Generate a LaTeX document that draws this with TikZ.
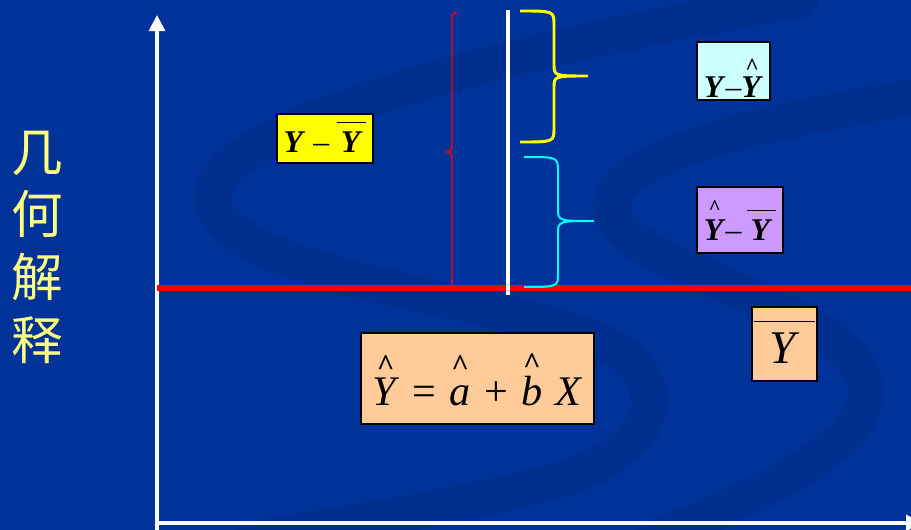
\RequirePackage{fix-cm}
\documentclass[tikz,border=0pt]{standalone}
\usepackage{amsmath}
\usepackage{fontspec}
\setmainfont{Liberation Serif}
\newfontfamily\cjkfont{Noto Sans CJK SC}
\usetikzlibrary{arrows.meta}
\definecolor{slideblue}{RGB}{0, 51, 153}
\definecolor{swooshblue}{RGB}{0, 47, 144}
\definecolor{titleyellow}{RGB}{255, 255, 128}
\definecolor{boxyellow}{RGB}{255, 255, 0}
\definecolor{boxcyan}{RGB}{204, 255, 255}
\definecolor{boxviolet}{RGB}{204, 153, 255}
\definecolor{boxpeach}{RGB}{255, 204, 153}
\definecolor{bracecyan}{RGB}{0, 255, 255}
\newcommand\boldY{\textbf{\textit{Y}}}
% caret size, gap, letter
\newcommand\hatover[3]{\vbox{\offinterlineskip\halign{\hfil##\hfil\cr{\fontsize{#1}{#1}\selectfont\textbf{\textasciicircum}}\cr\noalign{\kern#2}#3\cr}}}
\newcommand\barover[1]{$\overline{\mbox{\rule{0pt}{0.8em}\kern0.12em#1\kern0.12em}}$}

\begin{document}
\begin{tikzpicture}[
        x=0.03cm, y=-0.03cm,
        axis/.style={draw=white, line width=2.6pt, -{Triangle[length=0.48cm, width=0.48cm]}},
        termbox/.style={rectangle, draw=black, line width=1.8pt, inner sep=0pt, text depth=0pt, align=center, font=\fontsize{27}{30}\selectfont},
        bigbox/.style={termbox, fill=boxpeach, font=\fontsize{36}{40}\selectfont},
        swoosh/.style={draw=swooshblue, line width=1.1cm, line cap=round}
    ]
        \fill[slideblue] (0,0) rectangle (911,530);
        \useasboundingbox (0,0) rectangle (911,530);

        % background swooshes
        \draw[swoosh] (800,0) .. controls (450,60) and (180,140) .. (215,210) .. controls (250,280) and (500,300) .. (600,340) .. controls (680,380) and (660,450) .. (560,480) .. controls (450,510) and (330,525) .. (250,540);
        \draw[swoosh] (930,95) .. controls (700,130) and (590,170) .. (615,220) .. controls (640,270) and (820,300) .. (860,370) .. controls (890,430) and (800,480) .. (650,540);

        % title
        \node[font=\cjkfont\fontsize{44}{53.5}\selectfont, text=titleyellow, align=center, inner sep=0pt] (title) at (37,247) {几\\何\\解\\释};

        % axes and mean line
        \coordinate (origin) at (157,523);
        \coordinate (ybase) at (157,535);
        \coordinate (ytop) at (157,15);
        \coordinate (xend) at (922,523);
        \coordinate (meanleft) at (157,288);
        \coordinate (meanright) at (911,288);
        \draw[axis] (ybase) -- (ytop);
        \draw[axis] (origin) -- (xend);
        \draw[red, line width=4.5pt] (meanleft) -- (meanright);

        % observation
        \coordinate (obstop) at (508,10);
        \coordinate (obsbottom) at (508,295);
        \draw[white, line width=2.6pt] (obstop) -- (obsbottom);

        % braces
        \draw[red, line width=1.2pt] (457,13) .. controls (452,13) .. (452,25) -- (452,140) .. controls (452,152) .. (445,152) .. controls (452,152) .. (452,164) -- (452,275) .. controls (452,287) .. (457,287);
        \draw[boxyellow, line width=2.5pt] (520,11) .. controls (554,11) .. (554,25) -- (554,64) .. controls (554,76) .. (588,76) .. controls (554,76) .. (554,88) -- (554,128) .. controls (554,142) .. (520,142);
        \draw[bracecyan, line width=1.7pt] (524,157) .. controls (558,157) .. (558,172) -- (558,208) .. controls (558,221) .. (594,221) .. controls (558,221) .. (558,234) -- (558,273) .. controls (558,287) .. (524,287);

        % deviation labels
        \node[termbox, fill=boxyellow, minimum width=2.88cm, minimum height=1.47cm, text height=0.81cm] (total) at (325,138.5) {\boldY\ –\ \barover{\boldY}};
        \node[termbox, fill=boxcyan, minimum width=2.19cm, minimum height=1.74cm, text height=1.56cm] (residual) at (733.5,71) {\boldY–\hatover{20}{1.5pt}{\boldY}};
        \node[termbox, fill=boxviolet, minimum width=2.58cm, minimum height=1.98cm, text height=1.2cm] (explained) at (740,220) {\hatover{18}{4pt}{\boldY}–\,\barover{\boldY}};

        % regression line and mean
        \node[bigbox, minimum width=6.99cm, minimum height=2.73cm, text height=1.59cm] (fitline) at (477.5,378.5) {\hatover{26}{1.7pt}{\textit{Y}}\kern2.4pt{} =\kern2.4pt{} \hatover{26}{1.7pt}{\vphantom{\textit{Y}}\textit{a}}\kern2.4pt{} +\kern2.4pt{} \hatover{26}{1.7pt}{\vphantom{\textit{Y}}\textit{b}}\kern2.4pt{} \textit{X}};
        \node[bigbox, font=\fontsize{40}{44}\selectfont, minimum width=1.95cm, minimum height=2.22cm, text height=1.14cm] (meanY) at (784.5,344) {\barover{\kern0.2em\textit{Y}\kern0.2em}};
    \end{tikzpicture}
\end{document}
